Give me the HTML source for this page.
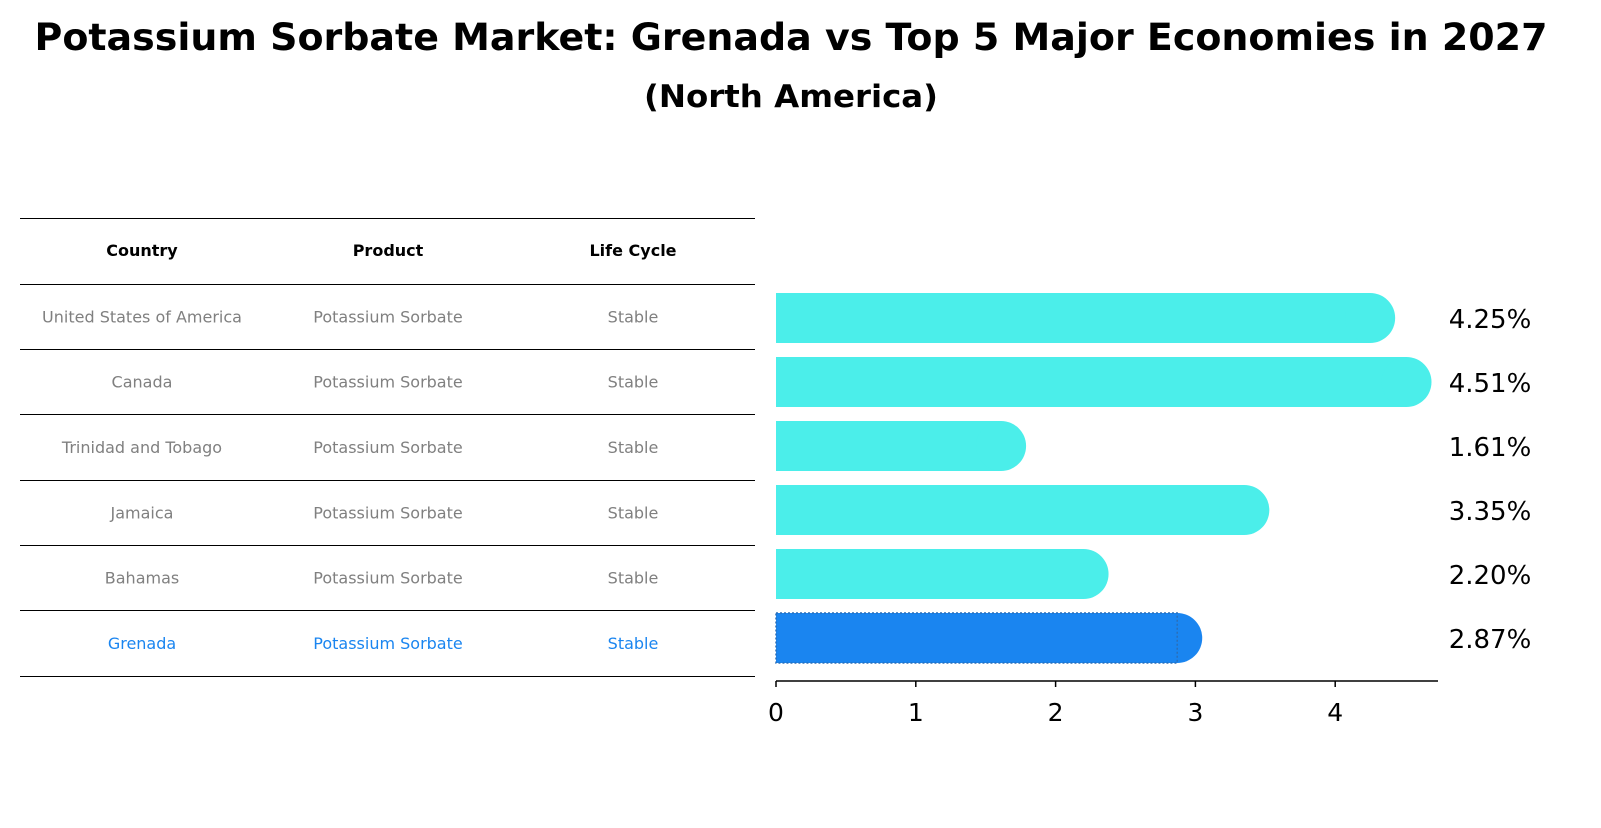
<!DOCTYPE html>
<html><head><meta charset="utf-8"><style>
body{margin:0;background:#fff;font-family:"Liberation Sans","DejaVu Sans",sans-serif;}
</style></head><body>
<svg width="1601" height="823" xmlns="http://www.w3.org/2000/svg" style="font-family:'DejaVu Sans','Liberation Sans',sans-serif">
<text x="791" y="50" text-anchor="middle" font-size="37" font-weight="bold" textLength="1513" lengthAdjust="spacingAndGlyphs">Potassium Sorbate Market: Grenada vs Top 5 Major Economies in 2027</text>
<text x="791" y="107" text-anchor="middle" font-size="31" font-weight="bold" textLength="294" lengthAdjust="spacingAndGlyphs">(North America)</text>
<g id="table"></g>
<g id="bars"></g>
</svg>
<script>
const countries=["United States of America","Canada","Trinidad and Tobago","Jamaica","Bahamas","Grenada"];
const values=[4.25,4.51,1.61,3.35,2.20,2.87];
const ticks=[0,1,2,3,4];
const NS="http://www.w3.org/2000/svg";
function mk(t,a,p,txt){const e=document.createElementNS(NS,t);for(const k in a)e.setAttribute(k,a[k]);if(txt!=null)e.textContent=txt;p.appendChild(e);return e;}
const x0=776,ppu=139.8;const xs=v=>x0+v*ppu;
const rowY=i=>318+i*64;
const tbl=document.getElementById('table');
const lines=[218,284,349,414,480,545,610,676];
lines.forEach(y=>{const l=mk('line',{x1:20,x2:755,y1:y+0.5,y2:y+0.5,stroke:'#000','stroke-width':1},tbl);

});
const cols=[142,388,633];
["Country","Product","Life Cycle"].forEach((h,j)=>{const t=mk('text',{x:cols[j],y:256,'text-anchor':'middle','font-size':16,'font-weight':'bold'},tbl,h);

});
countries.forEach((c,i)=>{const y=(lines[i+1]+lines[i+2])/2+6;const col=i==5?'#1a85f0':'#808080';
[c,"Potassium Sorbate","Stable"].forEach((v,j)=>{const t=mk('text',{x:cols[j],y:y,'text-anchor':'middle','font-size':16,fill:col},tbl,v);

});});
const g=document.getElementById('bars');
values.forEach((v,i)=>{const cy=rowY(i);const col=i==5?'#1a85f0':'#4beeea';
const r=mk('rect',{x:x0,y:cy-25,width:xs(v)-x0,height:50,fill:col},g);


const c=mk('circle',{cx:xs(v),cy:cy,r:25,fill:col},g);


if(i==5){const b=mk('rect',{x:x0,y:cy-25,width:xs(v)-x0,height:50,fill:'none',stroke:'#2a6fb8','stroke-width':1.5,'stroke-dasharray':'2,2'},g);

}
const t=mk('text',{x:1490,y:cy+10,'text-anchor':'middle','font-size':26},g,v.toFixed(2)+'%');

});
const ax=mk('line',{x1:x0,x2:1438,y1:681,y2:681,stroke:'#000','stroke-width':1.5},g);


ticks.forEach(tk=>{const l=mk('line',{x1:xs(tk),x2:xs(tk),y1:681,y2:687,stroke:'#000','stroke-width':1.5},g);


const t=mk('text',{x:xs(tk),y:721,'text-anchor':'middle','font-size':25},g,String(tk));

});
</script>
</body></html>
